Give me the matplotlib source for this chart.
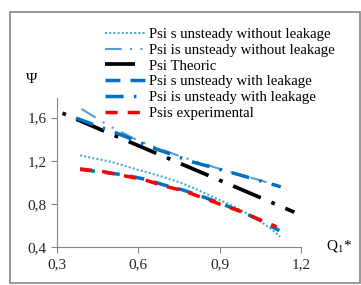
import matplotlib
matplotlib.use("Agg")
import matplotlib.pyplot as plt
from matplotlib.patches import Rectangle

plt.rcParams['font.family'] = ['Liberation Serif', 'DejaVu Serif']
plt.rcParams['mathtext.fontset'] = 'stix'

# ---- data ----
q_s_nolk   = [0.385, 0.50, 0.594, 0.68, 0.754, 0.82, 0.889, 0.95, 1.00, 1.05, 1.09, 1.123]
psi_s_nolk = [1.25, 1.19, 1.12, 1.06, 1.00, 0.93, 0.85, 0.78, 0.715, 0.64, 0.57, 0.50]

q_is_nolk   = [0.39, 0.49, 0.60, 0.75, 0.90, 1.00, 1.125]
psi_is_nolk = [1.68, 1.525, 1.385, 1.245, 1.125, 1.055, 0.965]

q_theo   = [0.32, 0.45, 0.60, 0.75, 0.90, 1.05, 1.175]
psi_theo = [1.64, 1.50, 1.34, 1.18, 1.02, 0.86, 0.725]

q_s_lk   = [0.385, 0.47, 0.545, 0.625, 0.69, 0.765, 0.83, 0.90, 0.98, 1.05, 1.12]
psi_s_lk = [1.12, 1.095, 1.07, 1.03, 0.98, 0.93, 0.875, 0.81, 0.73, 0.65, 0.555]

q_is_lk   = [0.37, 0.52, 0.668, 0.803, 0.975, 1.125]
psi_is_lk = [1.595, 1.456, 1.307, 1.187, 1.069, 0.96]

q_exp   = [0.385, 0.47, 0.545, 0.625, 0.69, 0.765, 0.83, 0.90, 0.98, 1.05, 1.11]
psi_exp = [1.125, 1.10, 1.063, 1.023, 0.97, 0.924, 0.865, 0.80, 0.73, 0.653, 0.59]

x_ticks = [0.3, 0.6, 0.9, 1.2]
x_labels = ["0,3", "0,6", "0,9", "1,2"]
y_ticks = [0.4, 0.8, 1.2, 1.6]
y_labels = ["0,4", "0,8", "1,2", "1,6"]

THEO_DASH = (8.0, 3.07, 1.0, 3.07)

fig = plt.figure(figsize=(3.61, 2.85), dpi=100)
ax = fig.add_axes([0.158, 0.132, 0.676, 0.524])

ax.plot(q_s_nolk, psi_s_nolk, color='#4BACC6', lw=1.5, ls=(0, (1, 1)),
        label="Psi s unsteady without leakage")
ax.plot(q_is_nolk, psi_is_nolk, color='#5B9BD5', lw=1.5, ls=(0, (8, 4, 1, 4, 1, 4)),
        label="Psi is unsteady without leakage")
# pattern starts on the dot, as in the reference
ax.plot(q_theo, psi_theo, color='black', lw=2.7, ls=(11.07, THEO_DASH),
        label="Psi Theoric")
ax.plot(q_s_lk, psi_s_lk, color='#0070C0', lw=2.5, ls=(0, (4.3, 2.9)),
        label="Psi s unsteady with leakage")
ax.plot(q_is_lk, psi_is_lk, color='#0070C0', lw=2.5, ls=(0, (5.2, 3.0, 0.7, 3.0)),
        label="Psi is unsteady with leakage")
ax.plot(q_exp, psi_exp, color='#FF0000', lw=2.5, ls=(0, (3.5, 2.9)),
        label="Psis experimental")

ax.set_xlim(0.3, 1.2)
ax.set_ylim(0.4, 1.78)
ax.set_xticks(x_ticks)
ax.set_xticklabels(x_labels)
ax.set_yticks(y_ticks)
ax.set_yticklabels(y_labels)
ax.tick_params(colors='#868686', labelcolor='#262626', labelsize=11, length=4, width=0.8)

for s in ['top', 'right']:
    ax.spines[s].set_visible(False)
for s in ['left', 'bottom']:
    ax.spines[s].set_color('#868686')
    ax.spines[s].set_linewidth(0.8)

fig.text(0.088, 0.72, "Ψ", fontsize=11, ha='center', va='center')
fig.text(0.94, 0.138, r"Q$_\mathregular{1}$*", fontsize=11, ha='center', va='center')

leg = ax.legend(loc='upper left', bbox_to_anchor=(0.291, 0.903), bbox_transform=fig.transFigure,
                frameon=False, fontsize=10.6, handlelength=2.75, handletextpad=0.25,
                labelspacing=0.17, borderpad=0, borderaxespad=0)
# legend sample of the theoretic line starts on the dash
leg.get_lines()[2].set_linestyle((0, THEO_DASH))

fig.patches.append(Rectangle((0.028, 0.007), 0.969, 0.951, transform=fig.transFigure,
                             fill=False, edgecolor='#868686', lw=1.2))

fig.savefig("out.png", dpi=100)
